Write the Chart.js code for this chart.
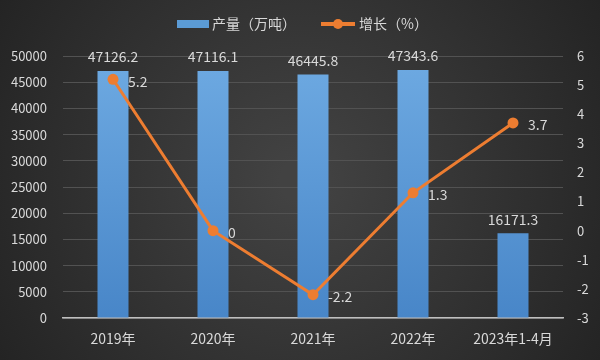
<!DOCTYPE html>
<html>
<head>
<meta charset="utf-8">
<script src="https://cdn.jsdelivr.net/npm/chart.js@4"></script>
<style>
  html, body { margin: 0; padding: 0; background: #262626; }
  #wrap { width: 600px; height: 360px; }
</style>
</head>
<body>
<div id="wrap"><canvas id="chart" width="600" height="360"></canvas></div>
<script>
// Chart data
const categories = ['2019年', '2020年', '2021年', '2022年', '2023年1-4月'];
const outputValues = [47126.2, 47116.1, 46445.8, 47343.6, 16171.3];
const growthValues = [5.2, 0, -2.2, 1.3, 3.7];
const leftTicks = [0, 5000, 10000, 15000, 20000, 25000, 30000, 35000, 40000, 45000, 50000];
const rightTicks = [-3, -2, -1, 0, 1, 2, 3, 4, 5, 6];

const textColor = '#d9d9d9';
const fontFamily = '"Noto Sans CJK SC", "Noto Sans", sans-serif';

// Dark radial background
const backgroundPlugin = {
    id: 'bg',
    beforeDraw(chart) {
        const { ctx, width, height } = chart;
        const g = ctx.createRadialGradient(width / 2, height / 2, 20, width / 2, height / 2, width * 0.6);
        g.addColorStop(0, '#424242');
        g.addColorStop(1, '#232323');
        ctx.save();
        ctx.fillStyle = g;
        ctx.fillRect(0, 0, width, height);
        ctx.restore();
    }
};

// Value labels and legend
const labelsPlugin = {
    id: 'labels',
    afterDatasetsDraw(chart) {
        const { ctx } = chart;
        ctx.save();
        ctx.font = '14px ' + fontFamily;
        ctx.fillStyle = textColor;

        chart.getDatasetMeta(0).data.forEach((bar, i) => {
            ctx.textAlign = 'center';
            ctx.textBaseline = 'bottom';
            ctx.fillText(outputValues[i].toFixed(1), bar.x, bar.y - 7);
        });
        chart.getDatasetMeta(1).data.forEach((pt, i) => {
            ctx.textAlign = 'left';
            ctx.textBaseline = 'middle';
            ctx.fillText(String(growthValues[i]), pt.x + 15, pt.y + 2);
        });

        // legend
        const ly = 24;
        ctx.fillStyle = '#5b9bd5';
        ctx.fillRect(177, ly - 4, 32, 8);
        ctx.fillStyle = textColor;
        ctx.textAlign = 'left';
        ctx.textBaseline = 'middle';
        ctx.fillText('产量（万吨）', 212, ly);

        ctx.strokeStyle = '#ed7d31';
        ctx.lineWidth = 4;
        ctx.beginPath();
        ctx.moveTo(321, ly);
        ctx.lineTo(355, ly);
        ctx.stroke();
        ctx.fillStyle = '#ed7d31';
        ctx.beginPath();
        ctx.arc(338, ly, 5, 0, Math.PI * 2);
        ctx.fill();
        ctx.fillStyle = textColor;
        ctx.fillText('增长（%）', 359, ly);
        ctx.restore();
    }
};

const ctx = document.getElementById('chart').getContext('2d');

new Chart(ctx, {
    type: 'bar',
    data: {
        labels: categories,
        datasets: [
            {
                type: 'bar',
                label: '产量（万吨）',
                data: outputValues,
                yAxisID: 'y',
                backgroundColor: (c) => {
                    const area = c.chart.chartArea;
                    if (!area) return '#5b9bd5';
                    const g = c.chart.ctx.createLinearGradient(0, area.top, 0, area.bottom);
                    g.addColorStop(0, '#6eaae2');
                    g.addColorStop(1, '#4886c8');
                    return g;
                },
                categoryPercentage: 1,
                barPercentage: 0.31,
                order: 2
            },
            {
                type: 'line',
                label: '增长（%）',
                data: growthValues,
                yAxisID: 'y1',
                borderColor: '#ed7d31',
                backgroundColor: '#ed7d31',
                borderWidth: 3,
                pointRadius: 5.5,
                pointBackgroundColor: '#ed7d31',
                pointBorderWidth: 0,
                tension: 0,
                order: 1
            }
        ]
    },
    options: {
        responsive: false,
        animation: false,
        layout: { padding: { top: 56, right: 0, left: 0, bottom: 0 } },
        plugins: {
            legend: { display: false },
            tooltip: { enabled: false }
        },
        scales: {
            x: {
                offset: true,
                grid: { display: false, drawTicks: false },
                border: { color: '#bfbfbf', width: 1.5 },
                ticks: {
                    color: textColor,
                    font: { size: 14, family: fontFamily },
                    padding: 12,
                    maxRotation: 0,
                    autoSkip: false
                },
                afterFit(axis) { axis.height = 42; }
            },
            y: {
                position: 'left',
                min: 0,
                max: 50000,
                afterBuildTicks(axis) { axis.ticks = leftTicks.map(v => ({ value: v })); },
                grid: { color: '#525252', drawTicks: false },
                border: { display: false },
                ticks: {
                    color: textColor,
                    font: { size: 13, family: fontFamily },
                    padding: 16,
                    callback: (v) => String(v)
                },
                afterFit(axis) { axis.width = 63; }
            },
            y1: {
                position: 'right',
                min: -3,
                max: 6,
                afterBuildTicks(axis) { axis.ticks = rightTicks.map(v => ({ value: v })); },
                grid: { display: false, drawTicks: false },
                border: { display: false },
                ticks: {
                    color: textColor,
                    font: { size: 13, family: fontFamily },
                    padding: 14,
                    callback: (v) => String(v)
                },
                afterFit(axis) { axis.width = 37; }
            }
        }
    },
    plugins: [backgroundPlugin, labelsPlugin]
});
</script>
</body>
</html>
